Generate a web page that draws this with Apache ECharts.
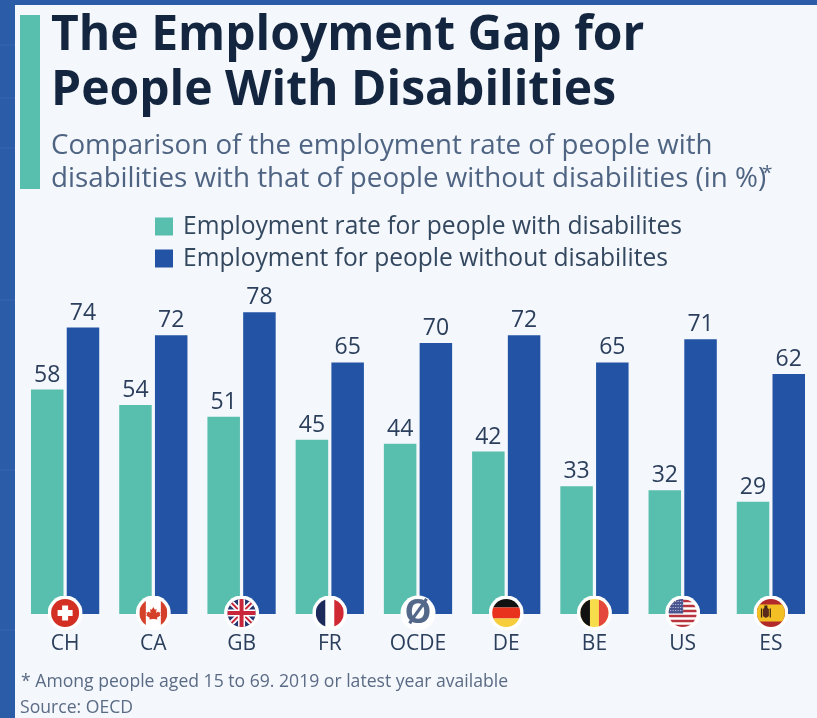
<!DOCTYPE html>
<html>
<head>
<meta charset="utf-8">
<style>html,body{margin:0;padding:0;background:#2a5ca8}#chart{width:817px;height:718px}</style>
<script src="https://cdn.jsdelivr.net/npm/echarts@6/dist/echarts.min.js"></script>
</head>
<body>
<div id="chart"></div>
<script>
const categories = ['CH', 'CA', 'GB', 'FR', 'OCDE', 'DE', 'BE', 'US', 'ES'];
const withDisabilities = [58, 54, 51, 45, 44, 42, 33, 32, 29];
const withoutDisabilities = [74, 72, 78, 65, 70, 72, 65, 71, 62];
const seriesNames = ['Employment rate for people with disabilites', 'Employment for people without disabilites'];
const titleText = 'The Employment Gap for\nPeople With Disabilities';
const subtitleLines = ['Comparison of the employment rate of people with', 'disabilities with that of people without disabilities (in %)'];
const footnote = '* Among people aged 15 to 69. 2019 or latest year available';
const sourceText = 'Source: OECD';

const FONT = '"Open Sans", sans-serif';
const INK = '#2b3f5c';

// Artwork for each round country badge, on a 70 unit canvas with a white ring.
const flagArt = {
  CH: '<rect width="70" height="70" fill="#d32f22"/><rect x="29" y="20" width="12" height="30" fill="#fff"/><rect x="20" y="29" width="30" height="12" fill="#fff"/>',
  CA: '<rect width="70" height="70" fill="#fff"/><rect x="7" width="13" height="70" fill="#d5402b"/><rect x="50" width="13" height="70" fill="#d5402b"/><path d="M35 20l4 7 4-2-1 10 5-4 2 3 4-1-2 6 2 2-9 6 1 4-8-1h-4l-8 1 1-4-9-6 2-2-2-6 4 1 2-3 5 4-1-10 4 2z" transform="translate(7 7) scale(.8)" fill="#d5402b"/>',
  GB: '<rect width="70" height="70" fill="#27346f"/><path d="M0 0L70 70M70 0L0 70" stroke="#fff" stroke-width="11"/><path d="M0 0L70 70M70 0L0 70" stroke="#c8253a" stroke-width="4"/><path d="M35 0V70M0 35H70" stroke="#fff" stroke-width="14"/><path d="M35 0V70M0 35H70" stroke="#c8253a" stroke-width="8"/>',
  FR: '<rect width="70" height="70" fill="#fff"/><rect x="7" width="19" height="70" fill="#1c2b5c"/><rect x="44" width="19" height="70" fill="#cf2a34"/>',
  DE: '<rect width="70" height="24" y="0" fill="#111"/><rect y="24" width="70" height="22" fill="#e8321e"/><rect y="46" width="70" height="24" fill="#f7cd3c"/>',
  BE: '<rect width="70" height="70" fill="#f7dc4c"/><rect width="26" height="70" fill="#111"/><rect x="44" width="26" height="70" fill="#e4483c"/>',
  US: '<rect width="70" height="70" fill="#fff"/>' +
      '<path d="M0 11H70M0 21H70M0 31H70M0 41H70M0 51H70M0 61H70" stroke="#b8343f" stroke-width="5"/>' +
      '<rect width="36" height="36" fill="#4a5590"/>' +
      '<path d="M10 12H36M10 18H36M10 24H36M10 30H36" stroke="#c9cfe6" stroke-width="2" stroke-dasharray="2 3"/>',
  ES: '<rect width="70" height="70" fill="#b32a2a"/><rect y="18" width="70" height="34" fill="#f2bf24"/>' +
      '<path d="M19 27q6-6 12 0v14q-6 7-12 0z" fill="#5a2a1a"/><rect x="22" y="20" width="6" height="6" fill="#3a2412"/>' +
      '<rect x="15" y="26" width="2.5" height="18" fill="#3a2412"/><rect x="32.5" y="26" width="2.5" height="18" fill="#3a2412"/>'
};

function flagSymbol(code) {
  const svg = '<svg xmlns="http://www.w3.org/2000/svg" width="140" height="140" viewBox="0 0 70 70">' +
    '<defs><clipPath id="c"><circle cx="35" cy="35" r="28"/></clipPath></defs>' +
    '<circle cx="35" cy="35" r="35" fill="#fff"/>' +
    '<g clip-path="url(#c)">' + flagArt[code] + '</g></svg>';
  return 'image://data:image/svg+xml;charset=utf-8,' + encodeURIComponent(svg);
}

// Faint grid lines on the blue backdrop around the white panel.
const backdropLines = [45, 98, 148, 300, 470, 630].map(y => ({
  type: 'line', silent: true, z: -10,
  shape: { x1: 0, y1: y, x2: 15, y2: y },
  style: { stroke: 'rgba(255,255,255,0.07)', lineWidth: 1 }
}));

const chart = echarts.init(document.getElementById('chart'));
chart.setOption({
  animation: false,
  backgroundColor: '#2a5ca8',
  title: {
    text: titleText,
    left: 46, top: 4,
    textStyle: { fontFamily: FONT, fontSize: 48, fontWeight: 700, color: '#14263f', lineHeight: 55 }
  },
  legend: {
    data: seriesNames,
    orient: 'vertical',
    left: 150, top: 209,
    itemWidth: 18, itemHeight: 18, itemGap: 7,
    icon: 'rect',
    selectedMode: false,
    textStyle: { fontFamily: FONT, fontSize: 24.6, lineHeight: 25, color: '#33475f', padding: [0, 0, 0, 5] }
  },
  grid: { left: 21, right: 2, top: 304.4, bottom: 104 },
  xAxis: {
    type: 'category',
    data: categories,
    axisLine: { show: false },
    axisTick: { show: false },
    axisLabel: { fontFamily: FONT, fontSize: 21, color: INK, margin: 20, interval: 0 }
  },
  yAxis: { type: 'value', min: 0, max: 80, show: false },
  graphic: [
    { type: 'rect', z: -10, silent: true, shape: { x: 15, y: 5, width: 802, height: 713 }, style: { fill: '#f4f7fb' } },
    ...backdropLines,
    { type: 'rect', z: -9, silent: true, shape: { x: 20, y: 15, width: 20, height: 174 }, style: { fill: '#58bfae' } },
    { type: 'text', silent: true, x: 51, y: 132, style: { text: subtitleLines[0], fontFamily: FONT, fontSize: 27.7, fill: '#4e6482' } },
    { type: 'text', silent: true, x: 51, y: 165, style: { text: subtitleLines[1], fontFamily: FONT, fontSize: 27.75, fill: '#4e6482' } },
    { type: 'text', silent: true, x: 762, y: 164, style: { text: '*', fontFamily: FONT, fontSize: 19, fill: '#4e6482' } },
    { type: 'text', silent: true, x: 21, y: 672.5, style: { text: footnote, fontFamily: FONT, fontSize: 17.6, fill: '#5a6b85' } },
    { type: 'text', silent: true, x: 20, y: 698.5, style: { text: sourceText, fontFamily: FONT, fontSize: 17.6, fill: '#5a6b85' } }
  ],
  series: [
    {
      name: seriesNames[0], type: 'bar', data: withDisabilities,
      barWidth: 32.5, barGap: '10%',
      itemStyle: { color: '#58bfae' },
      label: { show: true, position: 'top', distance: 3, fontFamily: FONT, fontSize: 23, color: INK }
    },
    {
      name: seriesNames[1], type: 'bar', data: withoutDisabilities,
      barWidth: 32.5, barGap: '10%',
      itemStyle: { color: '#2253a5' },
      label: { show: true, position: 'top', distance: 3, fontFamily: FONT, fontSize: 23, color: INK }
    },
    {
      // Country badges sitting on the baseline, centred under each bar pair.
      name: 'flags', type: 'scatter', z: 5, clip: false, silent: true,
      symbolSize: 35, symbolOffset: [0, -1],
      data: categories.map(code => code === 'OCDE'
        ? { value: [code, 0], symbol: 'circle', itemStyle: { color: '#fff', opacity: 1 },
            label: { show: true, position: 'inside', formatter: 'Ø', fontFamily: FONT, fontWeight: 700, fontSize: 34, color: '#54698a' } }
        : { value: [code, 0], symbol: flagSymbol(code), itemStyle: { opacity: 1 } })
    }
  ]
});
</script>
</body>
</html>
